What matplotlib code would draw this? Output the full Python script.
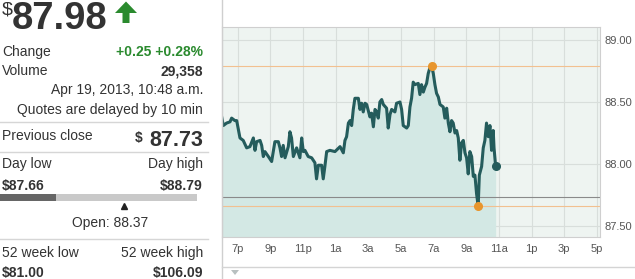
import matplotlib
matplotlib.use("Agg")
import matplotlib.pyplot as plt
from matplotlib.lines import Line2D
from matplotlib.patches import Polygon
import numpy as np

plt.rcParams['font.family'] = ['Liberation Sans', 'DejaVu Sans']

#===============================
# Data
#===============================

# quote panel
last_price = 87.98
change = "+0.25 +0.28%"
volume = "29,358"
quote_time = "Apr 19, 2013, 10:48 a.m."
prev_close = 87.73
day_low = 87.66
day_high = 88.79
open_price = 88.37
week52_low = 81.00
week52_high = 106.09

# intraday series, hours counted from midnight of Apr 18 (24 = 12a Apr 19)
times = [18.02, 18.12, 18.32, 18.53, 18.63, 18.83, 18.94, 19.14, 19.34, 19.55,
         19.75, 19.96, 20.06, 20.16, 20.37, 20.47, 20.57, 20.67, 20.88, 21.08,
         21.28, 21.49, 21.59, 21.69, 21.79, 21.90, 22.10, 22.20, 22.30, 22.41,
         22.61, 22.81, 22.92, 23.02, 23.12, 23.32, 23.53, 23.73, 23.83, 23.94,
         24.14, 24.24, 24.34, 24.45, 24.65, 24.96, 25.27, 25.47, 25.57, 25.67,
         25.78, 25.88, 25.98, 26.08, 26.18, 26.39, 26.49, 26.59, 26.69, 26.80,
         26.90, 27.10, 27.20, 27.31, 27.41, 27.51, 27.61, 27.71, 27.82, 27.92,
         28.12, 28.22, 28.33, 28.43, 28.63, 28.73, 28.94, 29.04, 29.14, 29.35,
         29.45, 29.55, 29.65, 29.75, 29.86, 30.06, 30.16, 30.26, 30.37, 30.47,
         30.57, 30.67, 30.78, 30.88, 30.98, 31.08, 31.18, 31.29, 31.39, 31.59,
         31.69, 31.80, 31.90, 32.00, 32.10, 32.20, 32.31, 32.41, 32.51, 32.61,
         32.71, 32.82, 32.92, 33.02, 33.12, 33.22, 33.33, 33.43, 33.53, 33.63,
         33.73, 33.80, 33.94, 34.04, 34.14, 34.24, 34.35, 34.45, 34.55, 34.65,
         34.70, 34.80]
prices = [88.38, 88.31, 88.33, 88.34, 88.37, 88.35, 88.35, 88.21, 88.19, 88.13,
          88.14, 88.21, 88.11, 88.18, 88.19, 88.15, 88.06, 88.10, 88.06, 88.02,
          88.18, 88.18, 88.13, 88.06, 88.15, 88.05, 88.14, 88.26, 88.21, 88.06,
          88.13, 88.05, 88.21, 88.10, 88.11, 88.06, 88.05, 88.01, 87.88, 87.99,
          87.99, 87.88, 87.98, 88.10, 88.11, 88.10, 88.14, 88.09, 88.19, 88.22,
          88.33, 88.35, 88.31, 88.44, 88.53, 88.53, 88.44, 88.49, 88.42, 88.49,
          88.48, 88.38, 88.41, 88.30, 88.44, 88.42, 88.37, 88.50, 88.52, 88.48,
          88.45, 88.29, 88.40, 88.44, 88.42, 88.49, 88.50, 88.44, 88.31, 88.29,
          88.31, 88.46, 88.53, 88.66, 88.64, 88.65, 88.56, 88.64, 88.58, 88.62,
          88.65, 88.73, 88.78, 88.79, 88.73, 88.64, 88.57, 88.54, 88.48, 88.46,
          88.37, 88.45, 88.33, 88.26, 88.35, 88.33, 88.25, 88.27, 88.21, 88.03,
          88.17, 88.19, 88.09, 88.05, 87.92, 88.10, 88.06, 87.90, 87.91, 87.76,
          87.66, 87.91, 87.98, 88.13, 88.19, 88.33, 88.22, 88.31, 88.11, 88.27,
          88.13, 87.98]

tick_hours = [19, 21, 23, 25, 27, 29, 31, 33, 35, 37, 39, 41]
tick_labels = ["7p", "9p", "11p", "1a", "3a", "5a", "7a", "9a", "11a", "1p", "3p", "5p"]
price_ticks = [87.50, 88.00, 88.50, 89.00]

#===============================
# Layout helpers (pixel -> figure coords)
#===============================
W, H = 635, 279
def fx(x): return x / W
def fy(y): return 1 - y / H

dark = "#333333"
green = "#2a8a2e"
line_col = "#245c5c"
orange = "#e8962e"

fig = plt.figure(figsize=(6.35, 2.79), dpi=100)
fig.patch.set_facecolor("white")

#===============================
# Quote panel
#===============================
fig.text(fx(2), fy(1), "$", fontsize=14, color=dark, va="top", ha="left")
fig.text(fx(12), fy(29), "%.2f" % last_price, fontsize=27.5, fontweight="bold",
         color=dark, va="baseline", ha="left")
arrow = Polygon([[fx(115), fy(13)], [fx(126), fy(1.5)], [fx(137), fy(13)],
                 [fx(129.5), fy(13)], [fx(129.5), fy(23)], [fx(122.5), fy(23)],
                 [fx(122.5), fy(13)]], closed=True, transform=fig.transFigure,
                facecolor=green, edgecolor="none")
fig.add_artist(arrow)

def row(y, left, right, rcolor=dark, rbold=True):
    fig.text(fx(2), fy(y), left, fontsize=10, color=dark, va="baseline", ha="left")
    if right:
        fig.text(fx(203), fy(y), right, fontsize=10, color=rcolor, va="baseline",
                 ha="right", fontweight="bold" if rbold else "normal")

row(56, "Change", change, rcolor=green)
row(75, "Volume", volume)
fig.text(fx(203), fy(94), quote_time, fontsize=10, color=dark, va="baseline", ha="right")
fig.text(fx(203), fy(114), "Quotes are delayed by 10 min", fontsize=10, color=dark,
         va="baseline", ha="right")

for ysep in [122, 152, 239]:
    fig.add_artist(Line2D([fx(0), fx(208)], [fy(ysep), fy(ysep)], color="#d6d6d6", lw=1))

row(140, "Previous close", None)
fig.text(fx(203), fy(146), "%.2f" % prev_close, fontsize=15.5, fontweight="bold",
         color=dark, va="baseline", ha="right")
fig.text(fx(135), fy(131), "$", fontsize=10, fontweight="bold", color=dark,
         va="top", ha="left")

fig.text(fx(2), fy(168), "Day low", fontsize=10, color=dark, va="baseline", ha="left")
fig.text(fx(203), fy(168), "Day high", fontsize=10, color=dark, va="baseline", ha="right")
row(190, "", "$%.2f" % day_high)
fig.text(fx(2), fy(190), "$%.2f" % day_low, fontsize=10, fontweight="bold", color=dark,
         va="baseline", ha="left")

# day range bar
bx = fig.add_axes([fx(0), fy(209), fx(197), 16 / H])
bx.set_xlim(day_low, day_high)
bx.set_ylim(16, 0)
bx.axis("off")
bx.barh(4.5, day_high - day_low, left=day_low, height=7, color="#c9c9c9")
bx.barh(4.5, last_price - day_low, left=day_low, height=7, color="#666666")
bx.plot(open_price, 12.5, marker="^", ms=5, color="#222222", clip_on=False)

fig.text(fx(110), fy(227), "Open: %.2f" % open_price, fontsize=10, color=dark,
         va="baseline", ha="center")

fig.text(fx(2), fy(257), "52 week low", fontsize=10, color=dark, va="baseline", ha="left")
fig.text(fx(203), fy(257), "52 week high", fontsize=10, color=dark, va="baseline", ha="right")
fig.text(fx(2), fy(277), "$%.2f" % week52_low, fontsize=10, fontweight="bold", color=dark,
         va="baseline", ha="left")
fig.text(fx(203), fy(277), "$%.2f" % week52_high, fontsize=10, fontweight="bold",
         color=dark, va="baseline", ha="right")

#===============================
# Intraday chart
#===============================
fig.add_artist(Line2D([fx(222), fx(222)], [0, 1], color="#cfcfcf", lw=1))
fig.add_artist(Line2D([fx(222), 1], [fy(267), fy(267)], color="#d4d4d4", lw=1))
fig.add_artist(Polygon([[fx(231), fy(270)], [fx(239), fy(270)], [fx(235), fy(275)]],
                       closed=True, transform=fig.transFigure, facecolor="#b8c0c0",
                       edgecolor="none"))

ax = fig.add_axes([fx(222), fy(237), (600 - 222) / W, (237 - 27) / H])
ax.set_facecolor("#eef4f1")
ymin, ymax = 87.411, 89.105
ax.set_xlim(18.04, 41.19)
ax.set_ylim(ymin, ymax)

ax.fill_between(times, prices, ymin, color="#d3e8e4", lw=0, zorder=1)
ax.axhline(day_high, color="#f2c090", lw=0.8, zorder=2)
ax.axhline(day_low, color="#f2c090", lw=0.8, zorder=2)
ax.axhline(prev_close, color="#8a8a8a", lw=0.8, zorder=2)
ax.plot(times, prices, color=line_col, lw=2.2, zorder=3)

i_hi = int(np.argmax(prices))
i_lo = int(np.argmin(prices))
ax.plot([times[i_hi], times[i_lo]], [prices[i_hi], prices[i_lo]], "o", ms=5.5,
        color=orange, zorder=4)
ax.plot(times[-1], prices[-1], "o", ms=5.5, color=line_col, zorder=4)

ax.set_xticks(tick_hours)
ax.set_xticklabels(tick_labels)
ax.set_yticks(price_ticks)
ax.set_yticklabels(["%.2f" % p for p in price_ticks])
ax.yaxis.tick_right()
ax.grid(color="#d8dedb", lw=0.8, zorder=0)
ax.set_axisbelow(True)
ax.tick_params(axis="y", length=0, pad=3, labelsize=8, labelcolor="#555555")
ax.tick_params(axis="x", length=0, pad=5, labelsize=8, labelcolor="#555555")
for s in ax.spines.values():
    s.set_color("#cfcfcf")
    s.set_linewidth(0.8)

fig.savefig("out.png", dpi=100)
